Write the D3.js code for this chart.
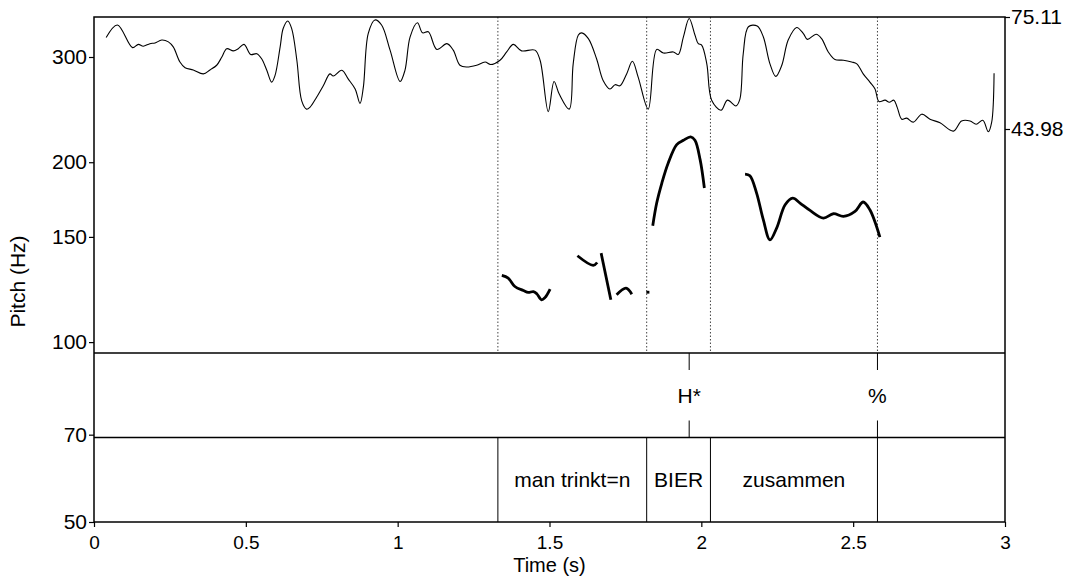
<!DOCTYPE html>
<html><head><meta charset="utf-8">
<script src="https://cdn.jsdelivr.net/npm/d3@7"></script>
<style>body{margin:0;background:#fff}svg{display:block}text{font-family:"Liberation Sans",Arial,sans-serif;fill:#000}</style>
</head><body>
<svg id="c" width="1071" height="577"></svg>
<script>
// ---- data ----
const pitchTicks = [50, 70, 100, 150, 200, 300];
const timeTicks = [0, 0.5, 1, 1.5, 2, 2.5, 3];
const intensityTicks = [75.11, 43.98];

const intensityTime = [0.040,0.077,0.127,0.146,0.162,0.184,0.201,0.223,0.245,0.261,
0.283,0.300,0.327,0.360,0.382,0.404,0.421,0.437,0.459,0.475,
0.494,0.516,0.536,0.552,0.569,0.585,0.596,0.613,0.623,0.638,
0.651,0.668,0.684,0.700,0.711,0.733,0.755,0.777,0.788,0.816,
0.837,0.860,0.876,0.887,0.903,0.925,0.947,0.975,1.008,1.024,
1.041,1.065,1.082,1.101,1.129,1.162,1.183,1.205,1.227,1.260,
1.288,1.306,1.337,1.359,1.381,1.408,1.452,1.469,1.496,1.515,
1.532,1.565,1.578,1.595,1.606,1.628,1.655,1.677,1.699,1.716,
1.732,1.754,1.773,1.792,1.825,1.853,1.875,1.908,1.924,1.941,
1.960,1.979,1.990,2.001,2.018,2.034,2.065,2.086,2.114,2.127,
2.138,2.155,2.184,2.204,2.226,2.245,2.265,2.286,2.314,2.336,
2.349,2.378,2.396,2.418,2.440,2.468,2.495,2.512,2.533,2.555,
2.572,2.585,2.605,2.619,2.634,2.645,2.660,2.676,2.698,2.726,
2.753,2.786,2.830,2.857,2.885,2.905,2.927,2.945,2.956,2.964];
const intensityDb = [69.4,72.9,66.6,67.5,67.0,67.7,67.9,68.7,68.2,66.8,
62.6,61.0,60.4,59.3,60.4,61.7,64.0,66.3,65.7,66.3,
67.5,64.7,64.9,63.5,60.3,57.0,58.8,66.8,71.9,74.0,
71.9,63.1,51.8,49.5,50.0,52.8,56.0,59.3,58.7,60.3,
57.9,55.1,51.1,55.6,70.5,74.3,72.9,65.9,57.2,60.3,
69.6,73.5,70.7,71.0,66.1,67.7,65.9,61.7,61.2,61.7,
62.6,61.9,63.1,65.4,67.5,65.7,65.9,63.1,48.8,57.2,
53.7,49.5,62.1,70.1,70.7,69.1,63.5,57.4,55.1,56.3,
56.0,59.3,62.8,58.4,49.5,66.1,65.1,65.4,64.7,69.6,
74.7,70.1,67.7,67.3,62.1,52.0,49.2,52.0,50.4,52.3,
64.9,72.4,72.6,69.6,62.1,58.6,61.7,68.7,72.2,70.5,
68.9,70.3,69.1,65.4,63.3,63.1,62.6,62.1,59.3,57.0,
55.1,51.6,52.0,51.4,52.0,50.0,46.7,47.0,45.9,48.1,
46.7,45.7,43.4,46.2,46.2,45.3,46.4,43.2,45.8,59.5];

const pitchTime = [
  [1.343,1.364,1.386,1.414,1.430,1.447,1.458,1.474,1.485,1.502],
  [1.592,1.644,1.657],
  [1.670,1.702],
  [1.721,1.752,1.771],
  [1.819,1.829],
  [1.840,1.853,1.870,1.891,1.919,1.941,1.965,1.979,1.996,2.010],
  [2.144,2.160,2.182,2.204,2.226,2.248,2.276,2.301,2.325,2.358,2.402,2.435,2.468,2.506,2.533,2.555,2.588]
];
const pitchHz = [
  [129.3,128.0,123.9,122.0,121.1,121.5,120.5,117.7,118.7,122.7],
  [139.5,134.4,135.9],
  [140.9,117.7],
  [120.0,123.1,120.3],
  [121.2,121.2],
  [156.6,170.9,184.6,199.4,214.0,217.6,220.5,217.6,202.0,181.1],
  [191.1,189.9,177.6,160.3,148.3,155.2,169.8,174.2,170.9,166.1,161.3,164.0,162.3,165.5,171.6,166.5,149.9]
];

const wordBounds = [1.33, 1.82, 2.03, 2.58];
const wordLabels = ["", "man trinkt=n", "BIER", "zusammen", ""];
const toneTimes = [1.96, 2.58];
const toneLabels = ["H*", "%"];

// ---- layout ----
const L = 94, R = 1005, T = 17, B = 522;
const tierH = 84.5;
const tier2Top = B - tierH, tier1Top = B - 2 * tierH;
const FS = 21;

const svg = d3.select("#c");
const x = d3.scaleLinear().domain([0, 3]).range([L, R]);
const y = d3.scaleLog().domain([50, 350]).range([B, T]);
const yI = d3.scaleLinear().domain([43.98, 75.11]).range([T + (tier1Top - T) / 3, T]);

// dotted boundary lines in pitch area
svg.append("g").selectAll("line").data(wordBounds).join("line")
  .attr("x1", d => x(d)).attr("x2", d => x(d))
  .attr("y1", T).attr("y2", tier1Top)
  .attr("stroke", "#444").attr("stroke-width", 1).attr("stroke-dasharray", "1.5,2");

// intensity curve
const iData = intensityTime.map((t, i) => [t, intensityDb[i]]);
svg.append("path").datum(iData)
  .attr("fill", "none").attr("stroke", "#000").attr("stroke-width", 1.1)
  .attr("d", d3.line().x(d => x(d[0])).y(d => yI(d[1])).curve(d3.curveCatmullRom.alpha(0.5)));

// pitch segments
const pData = pitchTime.map((ts, s) => ts.map((t, i) => [t, pitchHz[s][i]]));
svg.append("g").selectAll("path").data(pData).join("path")
  .attr("fill", "none").attr("stroke", "#000").attr("stroke-width", 2.8)
  .attr("d", d3.line().x(d => x(d[0])).y(d => y(d[1])).curve(d3.curveCatmullRom.alpha(0.5)));

// tiers
svg.append("g").selectAll("line").data([tier1Top, tier2Top]).join("line")
  .attr("x1", L).attr("x2", R).attr("y1", d => d).attr("y2", d => d)
  .attr("stroke", "#000").attr("stroke-width", 1.4);

// tone tier
const tg = svg.append("g");
toneTimes.forEach((t, i) => {
  tg.append("line").attr("x1", x(t)).attr("x2", x(t)).attr("y1", tier1Top).attr("y2", tier1Top + 17)
    .attr("stroke", "#000").attr("stroke-width", 1);
  tg.append("line").attr("x1", x(t)).attr("x2", x(t)).attr("y1", tier2Top - 17).attr("y2", tier2Top)
    .attr("stroke", "#000").attr("stroke-width", 1);
  tg.append("text").attr("x", x(t)).attr("y", tier1Top + tierH / 2).attr("dy", "0.35em")
    .attr("text-anchor", "middle").attr("font-size", FS).text(toneLabels[i]);
});

// word tier
const wg = svg.append("g");
wg.selectAll("line").data(wordBounds).join("line")
  .attr("x1", d => x(d)).attr("x2", d => x(d)).attr("y1", tier2Top).attr("y2", B)
  .attr("stroke", "#000").attr("stroke-width", 1);
const edges = [0, ...wordBounds, 3];
wordLabels.forEach((lab, i) => {
  if (!lab) return;
  wg.append("text").attr("x", (x(edges[i]) + x(edges[i + 1])) / 2).attr("y", tier2Top + tierH / 2)
    .attr("dy", "0.35em").attr("text-anchor", "middle").attr("font-size", FS).text(lab);
});

// frame
svg.append("rect").attr("x", L).attr("y", T).attr("width", R - L).attr("height", B - T)
  .attr("fill", "none").attr("stroke", "#000").attr("stroke-width", 1.5);

// axes
function styleAxis(fs) {
  return g => {
    g.select(".domain").remove();
    g.selectAll(".tick line").attr("stroke", "#000").attr("stroke-width", 1.2);
    g.selectAll(".tick text").attr("font-size", fs).attr("font-family", '"Liberation Sans",Arial,sans-serif').attr("fill", "#000");
  };
}
svg.append("g").attr("transform", `translate(${L},0)`)
  .call(d3.axisLeft(y).tickValues(pitchTicks).tickFormat(d3.format("d")).tickSize(5).tickPadding(2))
  .call(styleAxis(FS));
svg.append("g").attr("transform", `translate(0,${B})`)
  .call(d3.axisBottom(x).tickValues(timeTicks).tickFormat(d => String(d)).tickSize(5).tickPadding(9))
  .call(styleAxis(19));
svg.append("g").attr("transform", `translate(${R},0)`)
  .call(d3.axisRight(yI).tickValues(intensityTicks).tickFormat(d => d.toFixed(2)).tickSize(5).tickPadding(1))
  .call(styleAxis(FS));

// axis titles
svg.append("text").attr("x", (L + R) / 2).attr("y", 572).attr("text-anchor", "middle")
  .attr("font-size", 20).text("Time (s)");
svg.append("text").attr("transform", `translate(25,${(T + B) / 2 + 12}) rotate(-90)`)
  .attr("text-anchor", "middle").attr("font-size", FS).text("Pitch (Hz)");
</script>
</body></html>
